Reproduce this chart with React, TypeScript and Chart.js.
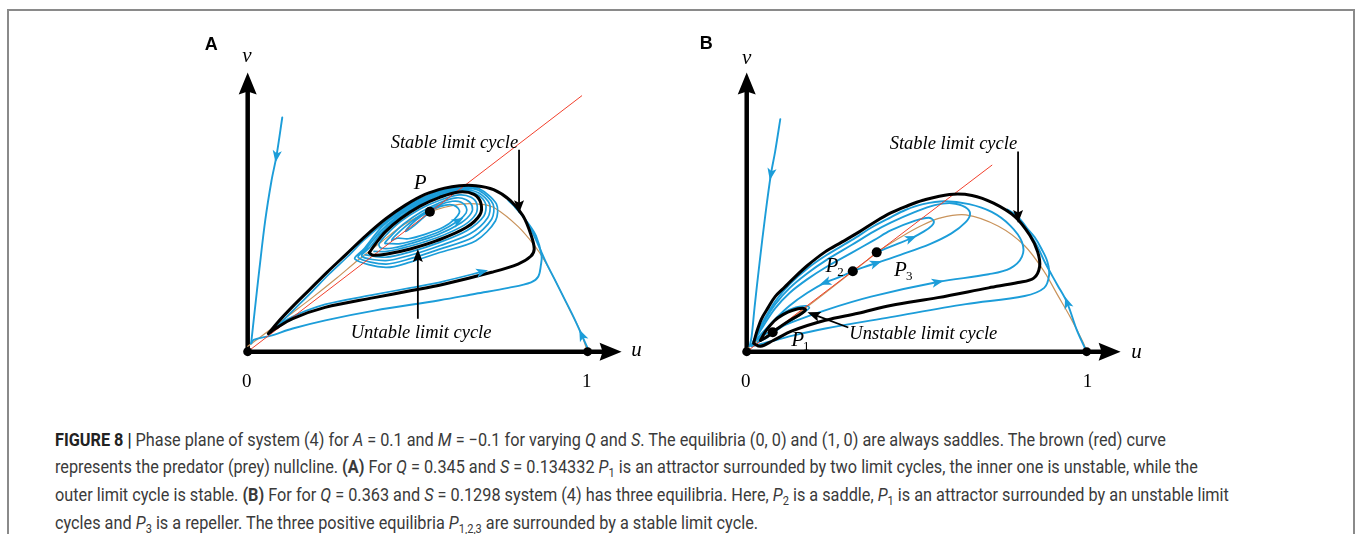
import React, { useEffect, useLayoutEffect, useRef } from 'react';
import { Chart, registerables } from 'chart.js';

Chart.register(...registerables);

type Pt = [number, number];

// ---------------- Panel A data (u, v) ----------------
const A_RED: Pt[] = [[0, 0], [0.9827, 0.7573]];
const A_BROWN: Pt[] = [
  [0, 0.016], [0.023, 0.033], [0.061, 0.061], [0.118, 0.105], [0.19, 0.16], [0.262, 0.218], [0.326, 0.272],
  [0.392, 0.324], [0.464, 0.379], [0.536, 0.414], [0.622, 0.436], [0.689, 0.436], [0.729, 0.424], [0.795, 0.371],
  [0.844, 0.314], [0.873, 0.27], [0.911, 0.198], [0.948, 0.122], [0.977, 0.064], [1.0, 0.0],
];
const A_STABLE: Pt[] = [
  [0.0605, 0.0533], [0.0893, 0.0879], [0.1326, 0.134], [0.1816, 0.183], [0.2334, 0.2349], [0.2911, 0.2896],
  [0.3487, 0.3444], [0.4063, 0.3934], [0.464, 0.4337], [0.5216, 0.4654], [0.5793, 0.4841], [0.6225, 0.4914],
  [0.6715, 0.4914], [0.7233, 0.4798], [0.7723, 0.4481], [0.8098, 0.402], [0.8329, 0.3473], [0.8429, 0.304],
  [0.8329, 0.2824], [0.7954, 0.2594], [0.7176, 0.2349], [0.5735, 0.1988], [0.4784, 0.1801], [0.3718, 0.1599],
  [0.2277, 0.1311], [0.1326, 0.098], [0.0807, 0.0677], [0.0605, 0.0533],
];
const A_UNSTABLE: Pt[] = [
  [0.3573, 0.2925], [0.3775, 0.3213], [0.4063, 0.3559], [0.4496, 0.3934], [0.5072, 0.4308], [0.5648, 0.4568],
  [0.6225, 0.4726], [0.6657, 0.4654], [0.6859, 0.4395], [0.683, 0.4049], [0.6427, 0.3674], [0.5562, 0.3285],
  [0.4784, 0.304], [0.4063, 0.2882], [0.3689, 0.2853], [0.3573, 0.2925],
];
const A_BLUE_LEFT: Pt[] = [
  [0.1017, 0.6931], [0.0844, 0.5778], [0.07, 0.5058], [0.0519, 0.3905], [0.0346, 0.2464], [0.0202, 0.1167], [0.0101, 0.0245],
];
const A_BLUE_OUTER: Pt[] = [
  [0.0101, 0.0245], [0.0173, 0.0352], [0.0654, 0.0467], [0.1326, 0.0686], [0.2285, 0.0928], [0.3726, 0.1216],
  [0.5648, 0.1522], [0.6706, 0.1715], [0.7666, 0.1888], [0.8337, 0.2052], [0.855, 0.2225], [0.8625, 0.2559],
  [0.8646, 0.2847], [0.8481, 0.3424], [0.8242, 0.381], [0.7954, 0.4193], [0.7666, 0.4481],
];
const A_BLUE_FROM_ONE: Pt[] = [
  [1.002, 0.0058], [0.9827, 0.0496], [0.9588, 0.1023], [0.93, 0.1599], [0.9012, 0.2176], [0.8769, 0.2657],
  [0.8579, 0.3089], [0.8337, 0.3617], [0.8098, 0.4], [0.7859, 0.4288],
];
const A_SPIRAL_OUT: Pt[] = [
  [0.3458, 0.2867], [0.4063, 0.2795], [0.4784, 0.2954], [0.5648, 0.3236], [0.6455, 0.3588], [0.6945, 0.4006],
  [0.7003, 0.4366], [0.6801, 0.4625], [0.6282, 0.4767], [0.5648, 0.4625], [0.4928, 0.4285], [0.4352, 0.389],
  [0.3919, 0.3493], [0.3602, 0.3098],
  [0.3357, 0.2824], [0.4063, 0.2695], [0.4784, 0.2853], [0.5648, 0.3135], [0.6542, 0.3487], [0.7061, 0.3963],
  [0.7118, 0.4366], [0.6801, 0.4697], [0.6282, 0.4807], [0.5648, 0.4671], [0.4928, 0.434], [0.4352, 0.3957],
  [0.3919, 0.3576], [0.3516, 0.3084],
  [0.3256, 0.2781], [0.4063, 0.2594], [0.4784, 0.2752], [0.5648, 0.3035], [0.6628, 0.3386], [0.7176, 0.3919],
  [0.7219, 0.4366], [0.6801, 0.4769], [0.6282, 0.4844], [0.5648, 0.4715], [0.4928, 0.4395], [0.4352, 0.402],
  [0.3919, 0.3663], [0.3429, 0.3055],
  [0.3156, 0.2738], [0.4063, 0.2493], [0.4784, 0.2651], [0.5648, 0.2934], [0.6715, 0.3285], [0.7291, 0.3876],
  [0.732, 0.4366], [0.6801, 0.483], [0.6282, 0.4879], [0.5648, 0.4755], [0.4928, 0.4444], [0.4352, 0.4078],
  [0.3919, 0.3735],
  [0.3401, 0.3285], [0.2968, 0.2839], [0.2392, 0.2291], [0.1888, 0.1772], [0.1398, 0.1282], [0.1037, 0.0922],
  [0.0807, 0.0692], [0.072, 0.0591], [0.1182, 0.0965], [0.2277, 0.1398], [0.3718, 0.1686], [0.4784, 0.1888],
  [0.5735, 0.2075], [0.7003, 0.2392],
];
const A_SPIRAL_IN: Pt[] = [
  [0.3718, 0.2968], [0.4092, 0.2968], [0.4784, 0.3127], [0.5562, 0.3372], [0.6369, 0.3746], [0.6715, 0.4078],
  [0.6744, 0.4366], [0.6571, 0.4568], [0.6225, 0.464], [0.5648, 0.4481], [0.5072, 0.4222], [0.4496, 0.3847],
  [0.4092, 0.3473], [0.3862, 0.3184],
  [0.3919, 0.3069], [0.4265, 0.3069], [0.4841, 0.3213], [0.5591, 0.3458], [0.6282, 0.3818], [0.6571, 0.4092],
  [0.6599, 0.4323], [0.6427, 0.4496], [0.6138, 0.4553], [0.5648, 0.4409], [0.5101, 0.4135], [0.4582, 0.3775],
  [0.4236, 0.3444], [0.4035, 0.3213],
  [0.415, 0.3199], [0.4496, 0.3199], [0.5014, 0.3329], [0.5648, 0.3559], [0.6196, 0.3876], [0.6427, 0.4107],
  [0.6427, 0.428], [0.6282, 0.4424], [0.6023, 0.4452], [0.5591, 0.4323], [0.513, 0.4078], [0.4669, 0.3732],
  [0.4352, 0.3444], [0.4236, 0.33],
  [0.4409, 0.3357], [0.4726, 0.3343], [0.5216, 0.3473], [0.5764, 0.3689], [0.6081, 0.3919], [0.6225, 0.4107],
  [0.6196, 0.4236], [0.6052, 0.4337], [0.5821, 0.4337], [0.5476, 0.4222], [0.5101, 0.4006], [0.4784, 0.3746],
  [0.464, 0.3559], [0.4899, 0.3732], [0.5159, 0.3963], [0.536, 0.4135],
];
const A_SADDLES: Pt[] = [[0, 0], [1, 0]];
const A_P: Pt[] = [[0.536, 0.414]];

// ---------------- Panel B data (u, v) ----------------
const B_RED: Pt[] = [[0, 0], [0.7213, 0.5519]];
const B_BROWN: Pt[] = [
  [0, 0.0086], [0.0346, 0.0331], [0.0764, 0.0573], [0.1354, 0.1009], [0.2219, 0.1671], [0.3121, 0.2378],
  [0.3516, 0.268], [0.3824, 0.2939], [0.4524, 0.3386], [0.5101, 0.3712], [0.5677, 0.3954], [0.6447, 0.4049],
  [0.7406, 0.3712], [0.8176, 0.3135], [0.8752, 0.2369], [0.9135, 0.1695], [0.9519, 0.1023], [0.9905, 0.0254], [1.0, 0],
];
const B_STABLE: Pt[] = [
  [0.0202, 0.0245], [0.0288, 0.0562], [0.0432, 0.0965], [0.0634, 0.1311], [0.0836, 0.1628], [0.1124, 0.1916],
  [0.1354, 0.2147], [0.1787, 0.255], [0.2305, 0.2954], [0.2795, 0.3242], [0.3285, 0.353], [0.3804, 0.3862],
  [0.4236, 0.4107], [0.4669, 0.4294], [0.5187, 0.4481], [0.5965, 0.4654], [0.6628, 0.4625], [0.7262, 0.4395],
  [0.7896, 0.3991], [0.8329, 0.3444], [0.8559, 0.2954], [0.8617, 0.2522], [0.8444, 0.2176], [0.7983, 0.2046],
  [0.7118, 0.1888], [0.562, 0.1599], [0.4236, 0.1369], [0.3277, 0.1138], [0.2314, 0.0928], [0.1354, 0.062],
  [0.0778, 0.0331], [0.0403, 0.0159], [0.0202, 0.0245],
];
const B_UNSTABLE: Pt[] = [
  [0.0403, 0.0331], [0.0548, 0.0591], [0.0807, 0.0908], [0.1066, 0.1095], [0.1354, 0.1225], [0.1643, 0.1282],
  [0.1729, 0.1239], [0.1556, 0.1095], [0.1239, 0.0908], [0.0922, 0.0692], [0.0605, 0.0447], [0.0403, 0.0331],
];
const B_BLUE_LEFT: Pt[] = [
  [0.0988, 0.6882], [0.0836, 0.5922], [0.0712, 0.5251], [0.0548, 0.4049], [0.0375, 0.2608], [0.0231, 0.1311],
  [0.0144, 0.0447], [0.0086, 0.0159],
];
const B_BLUE_FROM_ONE: Pt[] = [
  [1.0, 0], [0.9712, 0.064], [0.9424, 0.1455], [0.9135, 0.1983], [0.879, 0.2608], [0.8559, 0.3098],
  [0.83, 0.353], [0.8012, 0.3905], [0.7723, 0.4164],
];
const B_BLUE_LOW: Pt[] = [
  [0.0144, 0.0159], [0.049, 0.0245], [0.1354, 0.0476], [0.2314, 0.0686], [0.4236, 0.1023], [0.6447, 0.1406],
  [0.8176, 0.1648], [0.8752, 0.1888], [0.8896, 0.2271], [0.8847, 0.2657], [0.8674, 0.304], [0.8473, 0.3386],
  [0.8242, 0.366], [0.7954, 0.402], [0.7666, 0.4207],
];
const B_BLUE_BIG: Pt[] = [
  [0.0202, 0.0303], [0.0634, 0.0562], [0.1354, 0.0879], [0.2305, 0.1225], [0.366, 0.1628], [0.562, 0.2061],
  [0.7118, 0.2291], [0.7752, 0.2464], [0.8098, 0.281], [0.8098, 0.3242], [0.7752, 0.3732], [0.7205, 0.4135],
  [0.6542, 0.4366], [0.5821, 0.4452], [0.5187, 0.4366], [0.4669, 0.4193], [0.4236, 0.3977], [0.3746, 0.3718],
  [0.3084, 0.33], [0.2363, 0.2867], [0.1787, 0.2464], [0.1268, 0.2003], [0.0836, 0.1484], [0.049, 0.0908],
  [0.0259, 0.0447], [0.0144, 0.0187],
];
const B_BLUE_MID: Pt[] = [
  [0.3121, 0.2378], [0.3429, 0.2493], [0.3804, 0.2622], [0.4524, 0.2867], [0.5389, 0.3184], [0.6023, 0.3501],
  [0.6427, 0.3818], [0.6571, 0.4078], [0.6427, 0.428], [0.6023, 0.4395], [0.5533, 0.4337], [0.4957, 0.4135],
  [0.4236, 0.3818], [0.3746, 0.3559], [0.3084, 0.3156], [0.2363, 0.2723], [0.1787, 0.232], [0.1268, 0.1888],
  [0.0836, 0.1398], [0.049, 0.085], [0.0259, 0.0418], [0.0144, 0.0187],
];
const B_BLUE_SMALL: Pt[] = [
  [0.3824, 0.2939], [0.438, 0.317], [0.4841, 0.3357], [0.5216, 0.3559], [0.5447, 0.3732], [0.5504, 0.3862],
  [0.536, 0.3963], [0.4957, 0.3876], [0.4236, 0.3588], [0.3746, 0.33], [0.3084, 0.2925], [0.2363, 0.2522],
  [0.1787, 0.2147], [0.1268, 0.1744], [0.0836, 0.1282], [0.049, 0.0764], [0.0259, 0.0389], [0.0144, 0.0187],
];
const B_BLUE_P2: Pt[] = [
  [0.3121, 0.2378], [0.2651, 0.2176], [0.2305, 0.2046], [0.1787, 0.1744], [0.1268, 0.1369], [0.0836, 0.0965],
  [0.049, 0.0591], [0.0202, 0.0274],
];
const B_BLUE_P1: Pt[] = [
  [0.0317, 0.0274], [0.049, 0.0562], [0.0778, 0.0893], [0.1095, 0.1153], [0.1441, 0.1311], [0.1758, 0.1354],
  [0.1844, 0.1297], [0.1643, 0.1138], [0.1297, 0.0908], [0.0951, 0.0677], [0.0605, 0.0418], [0.0317, 0.0274],
];
const B_SADDLES: Pt[] = [[0, 0], [1, 0]];
const B_P: Pt[] = [[0.0764, 0.0576], [0.3121, 0.2378], [0.3824, 0.2939]];

// axis extents (arrow tips) in data units
const AXIS_U_END = 1.1;
const AXIS_V_END = 0.826;

// ---------------- styling ----------------
const SCALE = 347;
const BLUE = '#1c9dd9';
const BROWN = '#c9935b';
const RED = '#f2402c';
const BLACK = '#000';
const SERIF = '"Liberation Serif", "DejaVu Serif", serif';
const F_TEXT = `italic 18.5px ${SERIF}`;
const F_MATH = `italic 21px ${SERIF}`;
const F_NUM = `19px ${SERIF}`;
const F_PANEL = 'bold 18px "Liberation Sans", Arial, sans-serif';

interface Curve { data: Pt[]; color: string; width: number; tension?: number }
interface Head { at: Pt; from: Pt }
interface Pointer { from: Pt; to: Pt }
interface Label { text: string; at: Pt; font: string; sub?: string }
interface PanelSpec {
  left: number; top: number; width: number; height: number;
  originX: number; originY: number;
  curves: Curve[];
  saddles: Pt[];
  equilibria: Pt[];
  heads: Head[];
  pointers: Pointer[];
  labels: Label[];
}

// curves listed top-most first
const PANEL_A: PanelSpec = {
  left: 180, top: 20, width: 490, height: 380, originX: 244, originY: 355.5,
  curves: [
    { data: A_STABLE, color: BLACK, width: 3 },
    { data: A_UNSTABLE, color: BLACK, width: 3 },
    { data: A_RED, color: RED, width: 1, tension: 0 },
    { data: A_SPIRAL_IN, color: BLUE, width: 1.7, tension: 0.3 },
    { data: A_SPIRAL_OUT, color: BLUE, width: 1.7, tension: 0.3 },
    { data: A_BLUE_LEFT, color: BLUE, width: 1.9 },
    { data: A_BLUE_OUTER, color: BLUE, width: 1.9 },
    { data: A_BLUE_FROM_ONE, color: BLUE, width: 1.9 },
    { data: A_BROWN, color: BROWN, width: 1.2 },
  ],
  saddles: A_SADDLES,
  equilibria: A_P,
  heads: [
    { at: [0.0844, 0.5778], from: [0.1017, 0.6931] },
    { at: [0.9827, 0.0496], from: [1.002, 0.0058] },
    { at: [0.6196, 0.3876], from: [0.5648, 0.3559] },
    { at: [0.69, 0.2365], from: [0.5735, 0.2075] },
  ],
  pointers: [
    { from: [0.7983, 0.598], to: [0.7983, 0.4098] },
    { from: [0.5006, 0.0974], to: [0.5006, 0.304] },
  ],
  labels: [
    { text: 'A', at: [-0.1075, 0.8919], font: F_PANEL },
    { text: 'v', at: [-0.002, 0.8565], font: F_MATH },
    { text: 'u', at: [1.1441, -0.013], font: F_MATH },
    { text: '0', at: [-0.0029, -0.105], font: F_NUM },
    { text: '1', at: [0.9971, -0.105], font: F_NUM },
    { text: 'P', at: [0.5072, 0.4818], font: F_MATH },
    { text: 'Stable limit cycle', at: [0.6081, 0.6037], font: F_TEXT },
    { text: 'Untable limit cycle', at: [0.5101, 0.0418], font: F_TEXT },
  ],
};

const PANEL_B: PanelSpec = {
  left: 680, top: 20, width: 490, height: 380, originX: 743, originY: 355.5,
  curves: [
    { data: B_STABLE, color: BLACK, width: 3 },
    { data: B_UNSTABLE, color: BLACK, width: 3 },
    { data: B_RED, color: RED, width: 1, tension: 0 },
    { data: B_BLUE_P1, color: BLUE, width: 1.7 },
    { data: B_BLUE_BIG, color: BLUE, width: 1.9 },
    { data: B_BLUE_MID, color: BLUE, width: 1.9 },
    { data: B_BLUE_SMALL, color: BLUE, width: 1.9 },
    { data: B_BLUE_P2, color: BLUE, width: 1.9 },
    { data: B_BLUE_LEFT, color: BLUE, width: 1.9 },
    { data: B_BLUE_LOW, color: BLUE, width: 1.9 },
    { data: B_BLUE_FROM_ONE, color: BLUE, width: 1.9 },
    { data: B_BROWN, color: BROWN, width: 1.2 },
  ],
  saddles: B_SADDLES,
  equilibria: B_P,
  heads: [
    { at: [0.0712, 0.5251], from: [0.0836, 0.5922] },
    { at: [0.9424, 0.1455], from: [0.9712, 0.064] },
    { at: [0.2305, 0.2046], from: [0.2651, 0.2176] },
    { at: [0.4841, 0.3357], from: [0.438, 0.317] },
    { at: [0.3804, 0.2622], from: [0.3429, 0.2493] },
    { at: [0.562, 0.2061], from: [0.466, 0.185] },
  ],
  pointers: [
    { from: [0.7983, 0.5922], to: [0.7983, 0.381] },
    { from: [0.2988, 0.0715], to: [0.1787, 0.1167] },
  ],
  labels: [
    { text: 'B', at: [-0.119, 0.8948], font: F_PANEL },
    { text: 'v', at: [0, 0.8516], font: F_MATH },
    { text: 'u', at: [1.147, -0.0179], font: F_MATH },
    { text: '0', at: [-0.0029, -0.105], font: F_NUM },
    { text: '1', at: [1.0029, -0.105], font: F_NUM },
    { text: 'P', sub: '2', at: [0.2507, 0.2369], font: F_MATH },
    { text: 'P', sub: '3', at: [0.4524, 0.2225], font: F_MATH },
    { text: 'P', sub: '1', at: [0.1499, 0.0159], font: F_MATH },
    { text: 'Stable limit cycle', at: [0.6081, 0.6009], font: F_TEXT },
    { text: 'Unstable limit cycle', at: [0.5196, 0.0389], font: F_TEXT },
  ],
};

function stealth(ctx: CanvasRenderingContext2D, x: number, y: number, ang: number, len: number, half: number, notch: number) {
  ctx.save();
  ctx.translate(x, y);
  ctx.rotate(ang);
  ctx.beginPath();
  ctx.moveTo(0, 0);
  ctx.lineTo(-len, -half);
  ctx.lineTo(-len + notch, 0);
  ctx.lineTo(-len, half);
  ctx.closePath();
  ctx.fill();
  ctx.restore();
}

function makeDecor(spec: PanelSpec) {
  return {
    id: 'decor',
    beforeDatasetsDraw(chart: any) {
      const ctx: CanvasRenderingContext2D = chart.ctx;
      const sx = chart.scales.x, sy = chart.scales.y;
      const ox = sx.getPixelForValue(0), oy = sy.getPixelForValue(0);
      const ux = sx.getPixelForValue(AXIS_U_END), vy = sy.getPixelForValue(AXIS_V_END);
      ctx.save();
      ctx.strokeStyle = BLACK;
      ctx.fillStyle = BLACK;
      ctx.lineWidth = 4.5;
      ctx.beginPath();
      ctx.moveTo(ox, oy);
      ctx.lineTo(ux - 18, oy);
      ctx.moveTo(ox, oy);
      ctx.lineTo(ox, vy + 18);
      ctx.stroke();
      stealth(ctx, ux, oy, 0, 22, 9, 3);
      stealth(ctx, ox, vy, -Math.PI / 2, 22, 9, 3);
      ctx.restore();
    },
    afterDatasetsDraw(chart: any) {
      const ctx: CanvasRenderingContext2D = chart.ctx;
      const sx = chart.scales.x, sy = chart.scales.y;
      const X = (u: number) => sx.getPixelForValue(u);
      const Y = (v: number) => sy.getPixelForValue(v);
      ctx.save();
      ctx.fillStyle = BLUE;
      for (const h of spec.heads) {
        const ax = X(h.at[0]), ay = Y(h.at[1]);
        const fx = X(h.from[0]), fy = Y(h.from[1]);
        const ang = Math.atan2(ay - fy, ax - fx);
        stealth(ctx, ax + Math.cos(ang) * 6, ay + Math.sin(ang) * 6, ang, 12, 4.6, 3);
      }
      ctx.fillStyle = BLACK;
      ctx.strokeStyle = BLACK;
      ctx.lineWidth = 1.8;
      for (const p of spec.pointers) {
        const x0 = X(p.from[0]), y0 = Y(p.from[1]);
        const x1 = X(p.to[0]), y1 = Y(p.to[1]);
        const ang = Math.atan2(y1 - y0, x1 - x0);
        ctx.beginPath();
        ctx.moveTo(x0, y0);
        ctx.lineTo(x1 - Math.cos(ang) * 9, y1 - Math.sin(ang) * 9);
        ctx.stroke();
        stealth(ctx, x1, y1, ang, 13, 5, 2.5);
      }
      ctx.textBaseline = 'alphabetic';
      for (const l of spec.labels) {
        ctx.font = l.font;
        ctx.textAlign = 'center';
        const x = X(l.at[0]), y = Y(l.at[1]);
        ctx.fillText(l.text, x, y);
        if (l.sub) {
          const w = ctx.measureText(l.text).width;
          ctx.font = `13px ${SERIF}`;
          ctx.textAlign = 'left';
          ctx.fillText(l.sub, x + w / 2 - 1, y + 4);
        }
      }
      ctx.restore();
    },
  };
}

const xy = (pts: Pt[]) => pts.map(([x, y]) => ({ x, y }));

function Panel({ spec }: { spec: PanelSpec }) {
  const ref = useRef<HTMLCanvasElement>(null);
  useEffect(() => {
    const cv = ref.current;
    if (!cv) return;
    const xMin = (spec.left - spec.originX) / SCALE;
    const xMax = (spec.left + spec.width - spec.originX) / SCALE;
    const yMax = (spec.originY - spec.top) / SCALE;
    const yMin = (spec.originY - spec.top - spec.height) / SCALE;
    const datasets: any[] = [
      {
        data: xy(spec.equilibria), showLine: false, pointRadius: 5, pointBackgroundColor: BLACK,
        pointBorderWidth: 0, pointHoverRadius: 0, clip: false,
      },
      {
        data: xy(spec.saddles), showLine: false, pointRadius: 4.5, pointBackgroundColor: BLACK,
        pointBorderWidth: 0, pointHoverRadius: 0, clip: false,
      },
      ...spec.curves.map((c) => ({
        data: xy(c.data), showLine: true, borderColor: c.color, borderWidth: c.width,
        pointRadius: 0, pointHoverRadius: 0, tension: c.tension ?? 0.35, fill: false, clip: false,
        borderCapStyle: 'round', borderJoinStyle: 'round',
      })),
    ];
    const chart = new Chart(cv, {
      type: 'scatter',
      data: { datasets },
      options: {
        responsive: false,
        maintainAspectRatio: false,
        animation: false,
        events: [],
        layout: { padding: 0 },
        plugins: { legend: { display: false }, tooltip: { enabled: false } },
        scales: {
          x: { type: 'linear', display: false, min: xMin, max: xMax, bounds: 'data' },
          y: { type: 'linear', display: false, min: yMin, max: yMax, bounds: 'data' },
        },
      } as any,
      plugins: [makeDecor(spec) as any],
    });
    return () => chart.destroy();
  }, [spec]);
  return (
    <canvas
      ref={ref}
      width={spec.width}
      height={spec.height}
      style={{ position: 'absolute', left: spec.left, top: spec.top, width: spec.width, height: spec.height }}
    />
  );
}

const CAPTION_LEFT = 55;
const CAPTION_TOP = 426.6;
const CAPTION_LINE1_WIDTH = 1111;

const subStyle: React.CSSProperties = { fontSize: '0.68em', verticalAlign: '-0.28em', lineHeight: 0 };

export default function App() {
  const capRef = useRef<HTMLDivElement>(null);
  const line1Ref = useRef<HTMLSpanElement>(null);
  useLayoutEffect(() => {
    const fit = () => {
      const el = line1Ref.current, cap = capRef.current;
      if (!el || !cap) return;
      cap.style.transform = 'none';
      const w = el.getBoundingClientRect().width;
      if (w > 0) cap.style.transform = `scaleX(${CAPTION_LINE1_WIDTH / w})`;
    };
    fit();
    const fonts = (document as any).fonts;
    if (fonts && fonts.ready) fonts.ready.then(fit);
  }, []);

  return (
    <div style={{ position: 'fixed', left: 0, top: 0, width: 1357, height: 534, overflow: 'hidden', background: '#fff' }}>
      <div
        style={{
          position: 'absolute', left: 7, top: 9, width: 1344, height: 600,
          border: '2px solid #8a8a8a', boxSizing: 'content-box',
        }}
      />
      <Panel spec={PANEL_A} />
      <Panel spec={PANEL_B} />
      <div
        ref={capRef}
        style={{
          position: 'absolute', left: CAPTION_LEFT, top: CAPTION_TOP, transformOrigin: 'left top',
          fontFamily: 'Roboto, "Liberation Sans", Arial, sans-serif', fontSize: 18.5, lineHeight: '27.7px',
          color: '#3a3a3a', whiteSpace: 'nowrap',
        }}
      >
        <div>
          <span ref={line1Ref}>
            <b style={{ color: '#222' }}>FIGURE 8 |</b> Phase plane of system (4) for <i>A</i> = 0.1 and <i>M</i> = −0.1 for
            varying <i>Q</i> and <i>S</i>. The equilibria (0, 0) and (1, 0) are always saddles. The brown (red) curve
          </span>
        </div>
        <div>
          represents the predator (prey) nullcline. <b>(A)</b> For <i>Q</i> = 0.345 and <i>S</i> = 0.134332 <i>P</i>
          <sub style={subStyle}>1</sub> is an attractor surrounded by two limit cycles, the inner one is unstable, while the
        </div>
        <div>
          outer limit cycle is stable. <b>(B)</b> For for <i>Q</i> = 0.363 and <i>S</i> = 0.1298 system (4) has three
          equilibria. Here, <i>P</i><sub style={subStyle}>2</sub> is a saddle, <i>P</i><sub style={subStyle}>1</sub> is an
          attractor surrounded by an unstable limit
        </div>
        <div>
          cycles and <i>P</i><sub style={subStyle}>3</sub> is a repeller. The three positive equilibria <i>P</i>
          <sub style={subStyle}>1,2,3</sub> are surrounded by a stable limit cycle.
        </div>
      </div>
    </div>
  );
}
